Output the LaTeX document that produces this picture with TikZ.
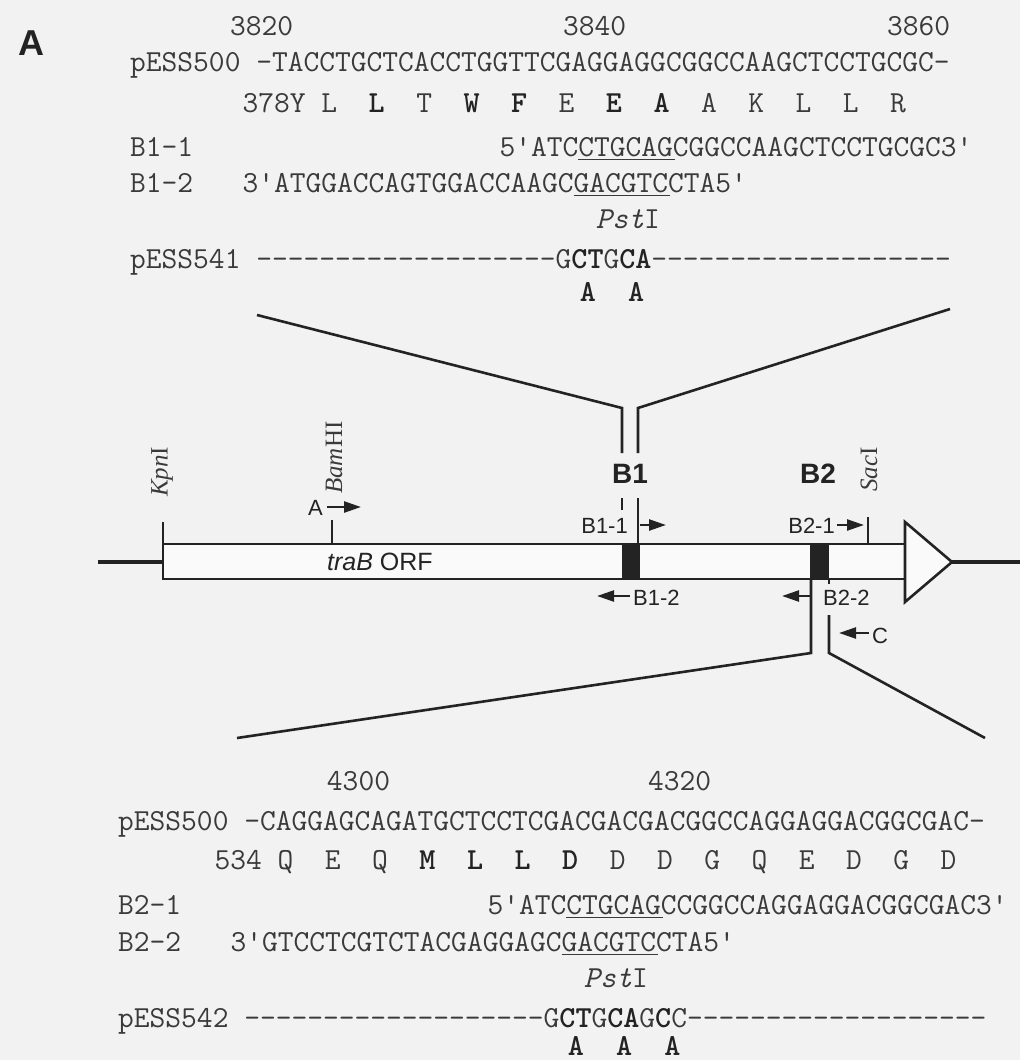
\documentclass[tikz,border=0pt]{standalone}
\usepackage{fontspec}
\setmainfont{Liberation Serif}
\setsansfont{Liberation Sans}
\usetikzlibrary{arrows.meta}
\definecolor{bg}{RGB}{242,242,242}
\definecolor{ink}{RGB}{58,58,58}
\definecolor{inkd}{RGB}{35,35,35}
\newcommand{\q}{{\char39}}
\newcommand{\bx}[1]{\textcolor{inkd}{\bfseries #1}}
\newcommand{\shd}[1]{\textcolor{inkd}{\bfseries #1}}
\newcommand{\ul}[1]{\rlap{\rule[-4pt]{3.15em}{1.3pt}}#1}
\newcommand{\pstI}{\textit{Pst}I}
\tikzset{
  seq/.style={font=\ttfamily\fontsize{30.6}{33}\selectfont, text=ink, inner sep=0pt, anchor=base west},
  lab/.style={font=\sffamily\fontsize{22}{25}\selectfont, text=inkd, inner sep=0pt},
  big/.style={font=\sffamily\bfseries\fontsize{28}{30}\selectfont, text=inkd, inner sep=0pt, anchor=base},
  site/.style={font=\rmfamily\fontsize{25}{28}\selectfont, text=ink, inner sep=0pt, rotate=90, anchor=west},
  ln/.style={draw=inkd, line width=2.6pt},
  thick line/.style={draw=inkd, line width=4pt},
  pa/.style={draw=inkd, line width=2.4pt, -{Triangle[length=17pt,width=11pt]}},
}
\begin{document}
\begin{tikzpicture}[x=1pt,y=-1pt]
\def\p{16.06}
\fill[bg] (0,0) rectangle (1020,1060);
\useasboundingbox (0,0) rectangle (1020,1060);

% panel label
\node[font=\sffamily\bfseries\fontsize{36}{38}\selectfont, text=inkd, inner sep=0pt, anchor=base west] (panel) at (18,55) {A};

% ---------- top block ----------
\node[seq] (t3820) at (230,35) {3820};
\node[seq] (t3840) at (563,35) {3840};
\node[seq] (t3860) at (887,35) {3860};
\node[seq] (tp500) at (130,71) {pESS500 -TACCTGCTCACCTGGTTCGAGGAGGCGGCCAAGCTCCTGCGC-};
\node[seq] (taa) at (130+7*\p,112) {378Y~L~~\shd{L}~~T~~\shd{W}~~\shd{F}~~E~~\shd{E}~~\shd{A}~~A~~K~~L~~L~~R};
\node[seq] (tb11) at (130,156) {B1-1};
\node[seq] (tb11s) at (130+23*\p,156) {5\q ATC\ul{CTGCAG}CGGCCAAGCTCCTGCGC3\q};
\node[seq] (tb12) at (130,192) {B1-2};
\node[seq] (tb12s) at (130+7*\p,192) {3\q ATGGACCAGTGGACCAAGC\ul{GACGTC}CTA5\q};
\node[seq] (tpst) at (130+29*\p,228) {\pstI};
\node[seq] (tp541) at (130,268) {pESS541 -------------------G\bx{CT}G\bx{CA}-------------------};
\node[seq] (tala) at (130+28*\p,301) {\bx{A~~A}};

% ---------- bottom block ----------
\node[seq] (b4300) at (118+13*\p,790) {4300};
\node[seq] (b4320) at (118+33*\p,790) {4320};
\node[seq] (bp500) at (118,830) {pESS500 -CAGGAGCAGATGCTCCTCGACGACGACGGCCAGGAGGACGGCGAC-};
\node[seq] (baa) at (118+6*\p,869) {534~Q~~E~~Q~~\shd{M}~~\shd{L}~~\shd{L}~~\shd{D}~~D~~D~~G~~Q~~E~~D~~G~~D};
\node[seq] (bb21) at (118,914) {B2-1};
\node[seq] (bb21s) at (118+23*\p,914) {5\q ATC\ul{CTGCAG}CCGGCCAGGAGGACGGCGAC3\q};
\node[seq] (bb22) at (118,951) {B2-2};
\node[seq] (bb22s) at (118+7*\p,951) {3\q GTCCTCGTCTACGAGGAGC\ul{GACGTC}CTA5\q};
\node[seq] (bpst) at (118+29*\p,987) {\pstI};
\node[seq] (bp542) at (118,1027) {pESS542 -------------------G\bx{CT}G\bx{CA}G\bx{C}C-------------------};
\node[seq] (bala) at (118+28*\p,1055) {\bx{A~~A~~A}};

% ---------- map ----------
\coordinate (lend) at (98,562);
\coordinate (kpn) at (163,562);
\coordinate (tip) at (952,562);
\coordinate (rend) at (1020,562);
\draw[thick line] (lend) -- (kpn);
\draw[thick line] (tip) -- (rend);
\draw[ln, fill=bg!40!white] (163,544) rectangle (905,579);
\draw[ln, fill=bg!40!white, line join=miter] (905,522) -- (tip) -- (905,602) -- cycle;
\fill[inkd] (622,544) rectangle (640,579);
\fill[inkd] (810,544) rectangle (829,579);

% sites
\coordinate (kpnT) at (163,522); \coordinate (kpnB) at (163,544);
\coordinate (bamT) at (332,520); \coordinate (bamB) at (332,544);
\coordinate (sacT) at (868,517); \coordinate (sacB) at (868,544);
\draw[ln] (kpnT) -- (kpnB);
\draw[ln] (bamT) -- (bamB);
\draw[ln] (sacT) -- (sacB);
\node[site] (kpnl) at (162,497) {\textit{Kpn}I};
\node[site] (baml) at (334,494) {\textit{Bam}HI};
\node[site] (sacl) at (869,492) {\textit{Sac}I};

\node[font=\sffamily\fontsize{25}{28}\selectfont, text=inkd, inner sep=0pt, anchor=base west] (orf) at (327,570) {\textit{traB} ORF};

% primers
\node[lab, anchor=base east] (pA) at (323,515) {A};
\coordinate (pA1) at (327,507); \coordinate (pA2) at (361,507);
\draw[pa] (pA1) -- (pA2);

\node[big] (B1) at (630,483) {B1};
\node[big] (B2) at (818,483) {B2};

\node[lab, anchor=base east] (b11) at (628,533) {B1-1};
\coordinate (b11a) at (640,525); \coordinate (b11b) at (666,525);
\draw[pa] (b11a) -- (b11b);
\node[lab, anchor=base east] (b21) at (835,533) {B2-1};
\coordinate (b21a) at (837,525); \coordinate (b21b) at (864,525);
\draw[pa] (b21a) -- (b21b);

\node[lab, anchor=base west] (b12) at (633,605) {B1-2};
\coordinate (b12a) at (630,596); \coordinate (b12b) at (597,596);
\draw[pa] (b12a) -- (b12b);
\node[lab, anchor=base west] (b22) at (823,605) {B2-2};
\coordinate (b22a) at (812,596); \coordinate (b22b) at (782,596);
\draw[pa] (b22a) -- (b22b);
\node[lab, anchor=base west] (pC) at (872,643) {C};
\coordinate (pCa) at (869,633); \coordinate (pCb) at (839,633);
\draw[pa] (pCa) -- (pCb);

% expansion fans
\coordinate (fl1) at (257,315); \coordinate (fl2) at (622,408); \coordinate (fl3) at (622,453);
\coordinate (fr1) at (950,309); \coordinate (fr2) at (638,408); \coordinate (fr3) at (638,453);
\draw[ln, line join=miter] (fl1) -- (fl2) -- (fl3);
\draw[ln, line join=miter] (fr1) -- (fr2) -- (fr3);
\coordinate (d1a) at (622,498); \coordinate (d1b) at (622,510);
\coordinate (d2a) at (638,498); \coordinate (d2b) at (638,544);
\draw[ln] (d1a) -- (d1b);
\draw[ln] (d2a) -- (d2b);

\coordinate (gl1) at (811,579); \coordinate (gl2) at (811,653); \coordinate (gl3) at (237,738);
\coordinate (gr0) at (829,579); \coordinate (gr0b) at (829,584);
\coordinate (gr1) at (829,615); \coordinate (gr2) at (829,653); \coordinate (gr3) at (985,738);
\draw[ln, line join=miter] (gl1) -- (gl2) -- (gl3);
\draw[ln] (gr0) -- (gr0b);
\draw[ln, line join=miter] (gr1) -- (gr2) -- (gr3);
\end{tikzpicture}
\end{document}
